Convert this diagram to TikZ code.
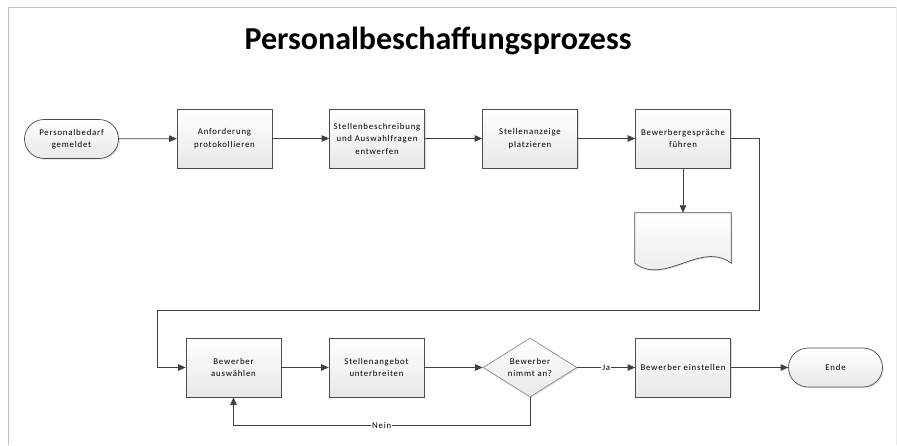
\documentclass[tikz,border=0pt]{standalone}
\usepackage{fontspec}
\setmainfont{Carlito}
\newfontfamily\boxfont[LetterSpace=9]{Carlito}
\usetikzlibrary{arrows.meta,shapes.geometric,shapes.misc,shadows}
\tikzset{
  base/.style={draw=black!70, line width=0.7pt, top color=white, bottom color=black!9,
    align=center, font=\boxfont\fontsize{8.8}{12.5}\selectfont, inner sep=1pt,
    drop shadow={shadow xshift=1.2pt, shadow yshift=-1.2pt, fill=black!30, opacity=0.4}},
  proc/.style={base, rectangle, minimum width=95pt, minimum height=59pt},
  term/.style={base, rounded rectangle, minimum width=96pt, minimum height=39pt},
  decis/.style={base, diamond, draw=black!45, minimum width=94pt, minimum height=59pt, aspect=1.6},
  conn/.style={draw=black!75, line width=0.7pt, -{Triangle[length=7.5pt,width=6.5pt]}},
  lbl/.style={fill=white, inner sep=1pt, font=\boxfont\fontsize{8.8}{11}\selectfont},
  frame/.style={draw=black!25, line width=0.8pt}
}
\begin{document}
\begin{tikzpicture}[x=1pt, y=-1pt]
\useasboundingbox (0,0) rectangle (897,445);
\draw[frame] (8,445) -- (8,7) -- (896,7);
\draw[draw=black!8, line width=0.8pt] (896,7) -- (896,445);

\node[font=\fontsize{32}{36}\selectfont\bfseries] (title) at (438,41) {Personalbeschaffungsprozess};

\node[term] (s) at (71.5,139) {Personalbedarf\\gemeldet};
\node[proc] (b1) at (224.5,138.5) {Anforderung\\protokollieren};
\node[proc] (b2) at (377,138.5) {Stellenbeschreibung\\und Auswahlfragen\\entwerfen};
\node[proc] (b3) at (530,138.5) {Stellenanzeige\\platzieren};
\node[proc] (b4) at (683,138.5) {Bewerbergespräche\\führen};

\node[minimum width=96pt, minimum height=57pt, inner sep=0pt] (doc) at (683,241.5) {};
\path[draw=black!70, line width=0.7pt, top color=white, bottom color=black!9,
  drop shadow={shadow xshift=1.2pt, shadow yshift=-1.2pt, fill=black!30, opacity=0.4}]
  (doc.north west) -- (doc.north east) -- ([yshift=7pt]doc.south east)
  .. controls ([xshift=-30pt,yshift=30pt]doc.south east) and ([xshift=30pt,yshift=-16pt]doc.south west)
  .. ([yshift=7pt]doc.south west) -- cycle;

\node[proc] (b5) at (233.5,367.5) {Bewerber\\auswählen};
\node[proc] (b6) at (376.5,367.5) {Stellenangebot\\unterbreiten};
\node[decis] (d) at (530,367.5) {Bewerber\\nimmt an?};
\node[proc] (b7) at (683,367.5) {Bewerber einstellen};
\node[term] (e) at (835.5,367.5) {Ende};

\coordinate (c1) at (759,310);
\coordinate (c2) at (157,310);
\coordinate (n1) at (530,425);

\draw[conn] (s) -- (b1);
\draw[conn] (b1) -- (b2);
\draw[conn] (b2) -- (b3);
\draw[conn] (b3) -- (b4);
\draw[conn] (b4) -- (doc);
\draw[conn] (b4.east) -| (c1) -- (c2) |- (b5.west);
\draw[conn] (b5) -- (b6);
\draw[conn] (b6) -- (d);
\draw[conn] (d) -- node[lbl] {Ja} (b7);
\draw[conn] (b7) -- (e);
\draw[conn] (d.south) -- (n1) -| node[lbl, pos=0.25] {Nein} (b5.south);
\end{tikzpicture}
\end{document}
